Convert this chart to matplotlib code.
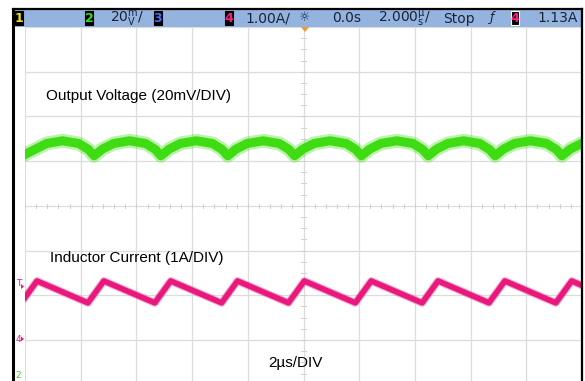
import matplotlib
matplotlib.use("Agg")
import matplotlib.pyplot as plt
from matplotlib.patches import Rectangle, Polygon

# scope settings
US_PER_DIV = 2.0
N_XDIV, N_YDIV = 10, 8
MV_PER_DIV = 20.0
A_PER_DIV = 1.0
IL_GROUND_DIV = 1.0        # channel 4 ground marker
VOUT_CENTER_DIV = 5.30     # channel 2 display level (AC ripple)

# inductor current, triangle vertices (us, A)
il_t = [0.00, 0.43, 2.26, 2.83, 4.66, 5.23, 7.06, 7.63, 9.46, 10.03,
        11.86, 12.43, 14.26, 14.83, 16.66, 17.23, 19.06, 19.63, 20.00]
il_a = [0.95, 1.32, 0.83, 1.32, 0.83, 1.32, 0.83, 1.32, 0.83, 1.32,
        0.83, 1.32, 0.83, 1.32, 0.83, 1.32, 0.83, 1.32, 1.22]

# output voltage ripple (us, mV)
vo_t = [0.00, 0.38, 0.78, 1.35, 1.93, 2.28,
        2.48, 2.78, 3.18, 3.75, 4.33, 4.68,
        4.88, 5.18, 5.58, 6.15, 6.73, 7.08,
        7.28, 7.58, 7.98, 8.55, 9.13, 9.48,
        9.68, 9.98, 10.38, 10.95, 11.53, 11.88,
        12.08, 12.38, 12.78, 13.35, 13.93, 14.28,
        14.48, 14.78, 15.18, 15.75, 16.33, 16.68,
        16.88, 17.18, 17.58, 18.15, 18.73, 19.08,
        19.28, 19.58, 20.00]
vo_mv = [-3.0, -0.6, 1.9, 3.1, 1.9, -0.8,
         -3.6, -0.6, 1.9, 3.1, 1.9, -0.8,
         -3.6, -0.6, 1.9, 3.1, 1.9, -0.8,
         -3.6, -0.6, 1.9, 3.1, 1.9, -0.8,
         -3.6, -0.6, 1.9, 3.1, 1.9, -0.8,
         -3.6, -0.6, 1.9, 3.1, 1.9, -0.8,
         -3.6, -0.6, 1.9, 3.1, 1.9, -0.8,
         -3.6, -0.6, 1.9, 3.1, 1.9, -0.8,
         -3.6, -0.6, 2.0]

GREEN = "#3fdc14"
PINK = "#e8187c"
GRID = "#dcdcdc"
INK = "#1a2438"
NARROW = ["Liberation Sans Narrow", "DejaVu Sans"]

W, H = 585, 381
fig = plt.figure(figsize=(W / 100, H / 100), dpi=100)
fig.patch.set_facecolor("white")

# graticule area in pixels
gx0, gx1, gy0, gy1 = 25, 582, 27, 384.7
ax = fig.add_axes([gx0 / W, (H - gy1) / H, (gx1 - gx0) / W, (gy1 - gy0) / H])
ax.set_xlim(0, N_XDIV * US_PER_DIV)
ax.set_ylim(0, N_YDIV)
ax.axis("off")

for i in range(N_XDIV + 1):
    ax.axvline(i * US_PER_DIV, color=GRID, lw=0.9, zorder=0)
for j in range(N_YDIV + 1):
    ax.axhline(j, color=GRID, lw=0.9, zorder=0)

# minor ticks on the centre cross
xc, yc = N_XDIV * US_PER_DIV / 2, N_YDIV / 2
for k in range(N_XDIV * 5 + 1):
    x = k * US_PER_DIV / 5
    ax.plot([x, x], [yc - 0.05, yc + 0.05], color="#cfcfcf", lw=0.7, zorder=0)
for k in range(N_YDIV * 4 + 1):
    y = k / 4
    ax.plot([xc - 0.1, xc + 0.1], [y, y], color="#cfcfcf", lw=0.7, zorder=0)

# traces
vo_div = [VOUT_CENTER_DIV + v / MV_PER_DIV for v in vo_mv]
ax.plot(vo_t, vo_div, color=GREEN, lw=10, alpha=0.35, solid_joinstyle="round", zorder=2)
ax.plot(vo_t, vo_div, color=GREEN, lw=6.5, solid_joinstyle="round", zorder=3)

il_div = [IL_GROUND_DIV + a / A_PER_DIV for a in il_a]
ax.plot(il_t, il_div, color=PINK, lw=5.6, alpha=0.35, solid_joinstyle="round", zorder=2)
ax.plot(il_t, il_div, color=PINK, lw=4.0, solid_joinstyle="round", zorder=3)

# overlay in pixel coordinates for the scope frame and readouts
ov = fig.add_axes([0, 0, 1, 1])
ov.set_xlim(0, W)
ov.set_ylim(H, 0)
ov.axis("off")
ov.patch.set_alpha(0)

# status bar
ov.add_patch(Rectangle((13, 9), 569, 18, facecolor="#94b3df", edgecolor="none"))
ov.plot([13, 582], [9, 9], color="black", lw=1.6)
ov.plot([13, 13], [9, H], color="black", lw=2.2)
ov.plot([582, 582], [9, H], color="black", lw=1.6)

def chan_box(x, label, color, edge="black"):
    ov.add_patch(Rectangle((x, 11), 8, 14, facecolor="black", edgecolor=edge, lw=0.8))
    ov.text(x + 4, 18.5, label, color=color, fontsize=9, fontweight="bold",
            ha="center", va="center", family=NARROW)

chan_box(15, "1", "#e8e020")
chan_box(85, "2", "#30e020")
chan_box(154, "3", "#4070ff")
chan_box(225, "4", "#ff2080")
chan_box(511, "4", "#ff2080", edge="white")

# readouts; stacked units drawn as super/subscript pairs
BASE = 22.5
bar_kw = dict(color=INK, fontsize=10, va="baseline", family=NARROW)
ov.text(110, BASE, r"20$^{\mathregular{m}}_{\mathregular{V}}$/", **bar_kw)
ov.text(245, BASE, "1.00A/", **bar_kw)
ov.text(305, 18, "\u263c", color=INK, fontsize=9, ha="center", va="center")
ov.text(332, BASE, "0.0s", **bar_kw)
ov.text(378, BASE, r"2.000$^{\mathregular{\mu}}_{\mathregular{s}}$/", **bar_kw)
ov.text(443, BASE, "Stop", **bar_kw)
ov.text(492, 18, "\u0192", color=INK, fontsize=9, ha="center", va="center",
        style="italic")
ov.text(537, BASE, "1.13A", **bar_kw)

# trigger position marker
ov.add_patch(Polygon([[301, 27], [309, 27], [305, 32]], closed=True,
                     facecolor="#f29a2e", edgecolor="none"))

# channel markers on the left edge
ov.text(19, 283, "T", color=PINK, fontsize=6.5, ha="center", va="center", family=NARROW)
ov.add_patch(Polygon([[21, 284], [24, 286.5], [21, 289]], closed=True, facecolor=PINK))
ov.text(18, 339, "4", color=PINK, fontsize=6.5, ha="center", va="center", family=NARROW)
ov.add_patch(Polygon([[21, 336.5], [24, 339], [21, 341.5]], closed=True, facecolor=PINK))
ov.text(18, 376, "2", color="#30d020", fontsize=6.5, ha="center", va="center", family=NARROW)

# annotations
lbl_kw = dict(color="black", fontsize=11, family=["Liberation Sans", "DejaVu Sans"],
              va="center", ha="left")
ov.text(46, 96, "Output Voltage (20mV/DIV)", **lbl_kw)
ov.text(50, 258, "Inductor Current (1A/DIV)", **lbl_kw)
ov.text(268, 363, "2\u00b5s/DIV", **lbl_kw)

fig.savefig("out.png", dpi=100)
